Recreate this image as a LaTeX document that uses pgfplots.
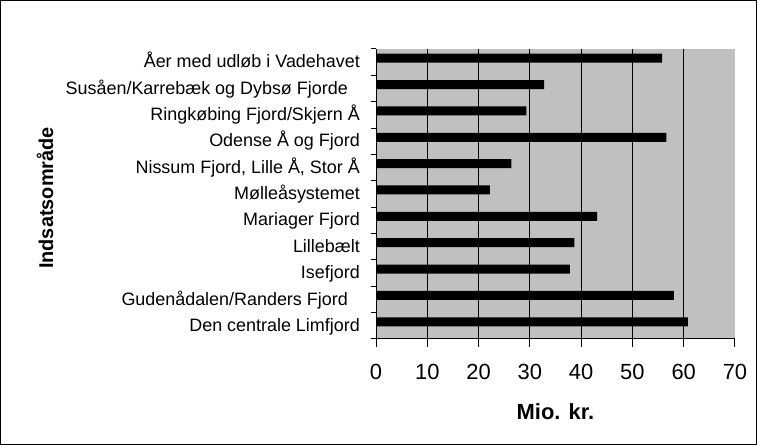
\documentclass[border=0pt]{standalone}
\usepackage{pgfplots}
\pgfplotsset{compat=1.18}
\usepackage{fontspec}
\setmainfont{Liberation Sans}
\definecolor{plotbg}{RGB}{192,192,192}
\begin{document}
\begin{tikzpicture}
\draw[line width=1bp] (0.5bp,0.5bp) rectangle (756.5bp,444.5bp);
\begin{axis}[
  at={(376bp,106bp)}, anchor=south west,
  scale only axis, width=359bp, height=290bp,
  xmin=0, xmax=70, ymin=-0.5, ymax=10.5,
  axis lines=left,
  axis line style={-, line width=1bp, black},
  axis background/.style={fill=plotbg},
  xbar, bar width=9bp, bar shift=4bp,
  xtick={0,10,...,70},
  ytick={0,...,10},
  yticklabels={Den centrale Limfjord,
    {Gudenådalen/Randers Fjord\hspace*{12bp}},
    Isefjord, Lillebælt, Mariager Fjord, Mølleåsystemet,
    {Nissum Fjord, Lille Å, Stor Å}, Odense Å og Fjord,
    Ringkøbing Fjord/Skjern Å,
    {Susåen/Karrebæk og Dybsø Fjorde\hspace*{12bp}},
    Åer med udløb i Vadehavet},
  minor ytick={-0.5,0.5,...,10.5},
  tick align=outside,
  major tick length=8bp, minor tick length=5bp,
  tick style={line width=1bp, black},
  major y tick style={draw=none},
  extra x ticks={10,20,30,40,50,60},
  extra x tick labels={},
  extra x tick style={grid=major, major tick length=0pt},
  major grid style={black, line width=1bp},
  /pgf/number format/assume math mode=true,
  xticklabel style={font=\fontsize{22}{26}\selectfont, anchor=base, inner sep=0pt, yshift=-33bp},
  yticklabel style={font=\fontsize{18}{21}\selectfont, anchor=base east, inner sep=0pt, xshift=-8bp, yshift=-5.6bp},
  xlabel={Mio. kr.},
  xlabel style={font=\fontsize{22}{26}\selectfont\bfseries, at={(axis description cs:0.5,-0.2793)}, anchor=base, inner sep=0pt},
  ylabel={Indsatsområde},
  ylabel style={font=\fontsize{20}{24}\selectfont\bfseries, at={(axis description cs:-0.8997,0.486)}, anchor=base, inner sep=0pt},
]
\addplot[fill=black, draw=none] coordinates {
  (60.8,0) (58.1,1) (37.8,2) (38.7,3) (43.1,4) (22.2,5)
  (26.4,6) (56.6,7) (29.3,8) (32.8,9) (55.8,10)
};
\end{axis}
\end{tikzpicture}
\end{document}
